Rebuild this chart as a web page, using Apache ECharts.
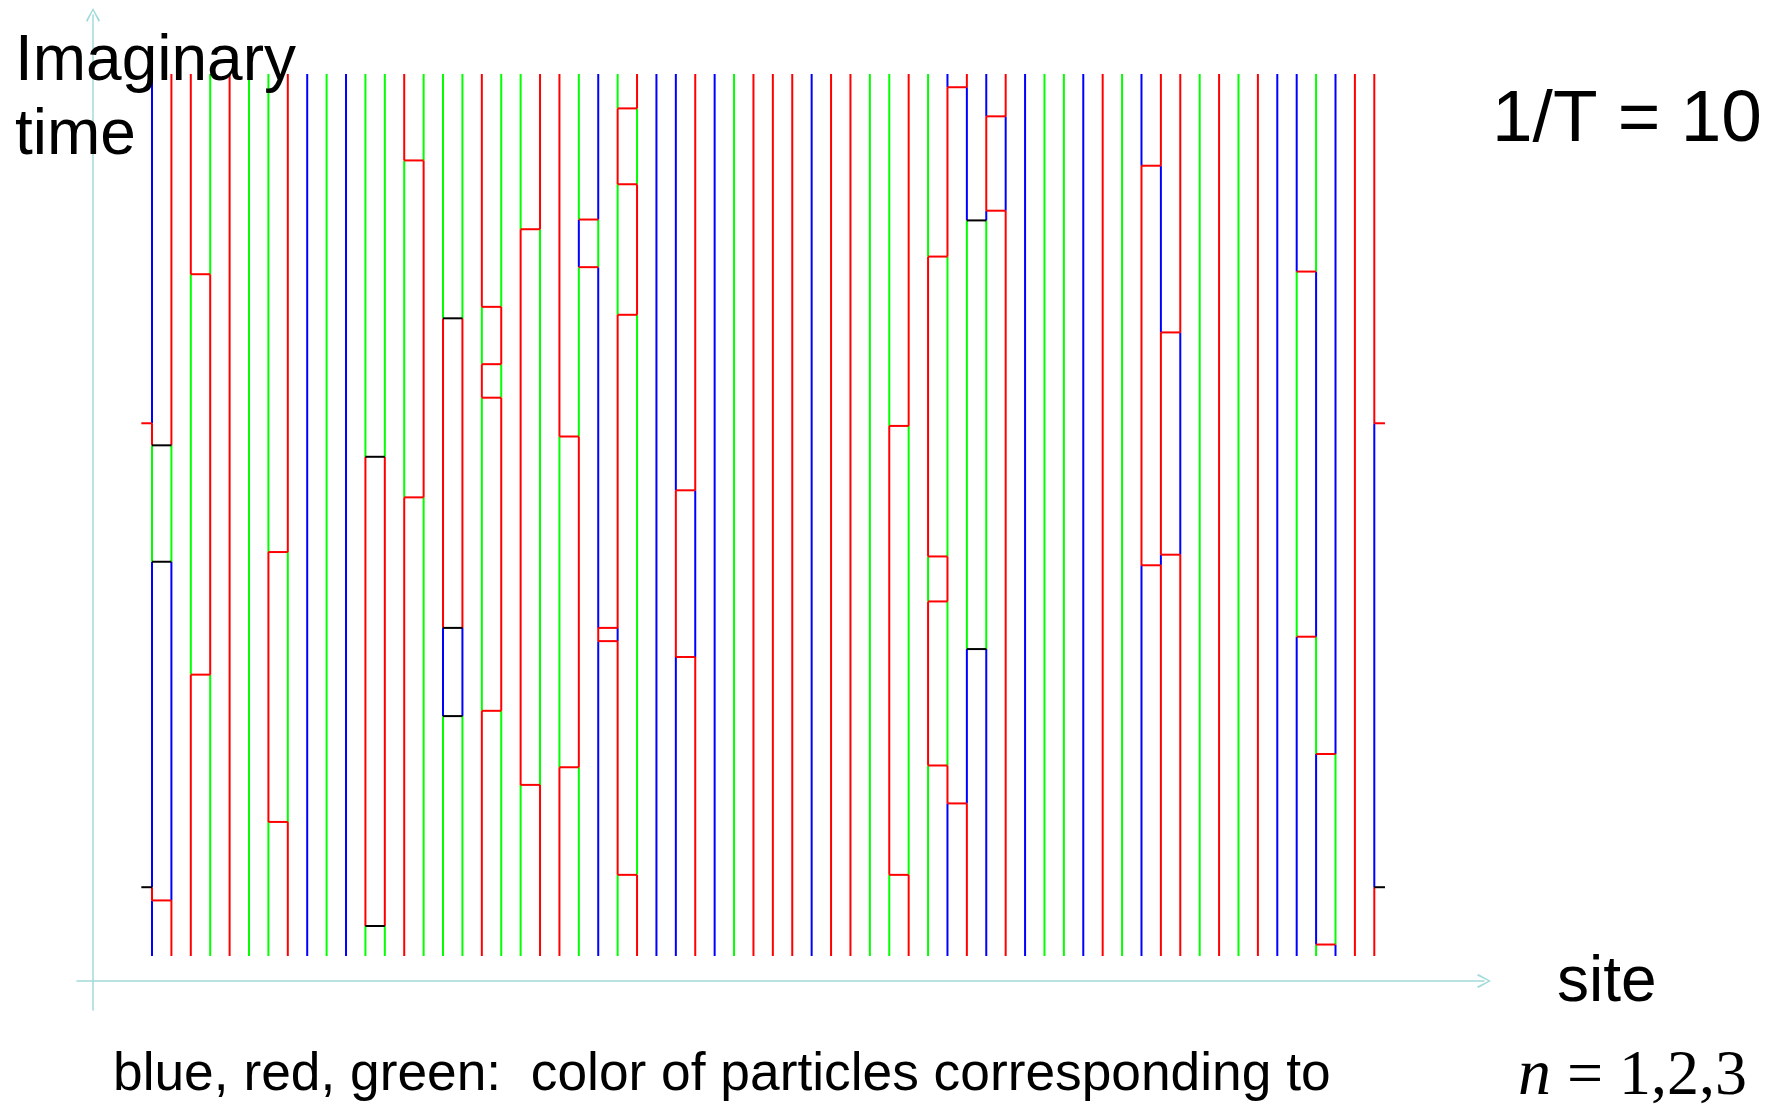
<!DOCTYPE html>
<html><head><meta charset="utf-8">
<script src="https://cdn.jsdelivr.net/npm/echarts@6/dist/echarts.min.js"></script>
<style>html,body{margin:0;padding:0;background:#fff}#c{width:1776px;height:1104px}</style>
</head><body><div id="c"></div>
<script>
// ---- data ----
const siteCount = 64;
const beta = 10; // 1/T, imaginary time runs 0..beta
// colour of each world line from tau=0 upward (B blue, R red, G green)
const siteColors = [
  'BRBGRB','RBGR','RGR','GRG','R','G','GRG','RGR','B','G',
  'B','GRG','GRG','RGR','GRG','GBRG','GBRG','RGRGR','GRGRG','GRG',
  'RGR','RGR','GRGBG','BRBGB','GRBRGRG','RGRGR','B','BRB','RBR','B',
  'G','R','R','R','B','R','R','G','GRG','RGR',
  'GRGRG','BRGRGRB','RBGBR','BGBRB','RBR','B','G','G','B','R',
  'G','BRB','RBRBR','RBR','G','R','G','R','B','BGB',
  'GBGBG','BGB','R','RBR'
];
// imaginary times at which each world line changes colour
const siteSwitches = [
  [0.63,0.78,4.47,5.79,6.04],[0.63,4.47,5.79],[3.19,7.73],[3.19,7.73],[],[],[1.52,4.58],[1.52,4.58],[],[],
  [],[0.34,5.66],[0.34,5.66],[5.20,9.02],[5.20,9.02],[2.72,3.72,7.23],[2.72,3.72,7.23],[2.78,6.33,6.71,7.36],[2.78,6.33,6.71,7.36],[1.94,8.24],
  [1.94,8.24],[2.14,5.89],[2.14,5.89,7.81,8.35],[3.57,3.72,7.81,8.35],[0.92,3.57,3.72,7.27,8.75,9.61],[0.92,7.27,8.75,9.61],[],[3.39,5.28],[3.39,5.28],[],
  [],[],[],[],[],[],[],[],[0.92,6.01],[0.92,6.01],
  [2.16,4.02,4.53,7.93],[1.73,2.16,4.02,4.53,7.93,9.85],[1.73,3.48,8.34,9.85],[3.48,8.34,8.45,9.52],[8.45,9.52],[],[],[],[],[],
  [],[4.43,8.96],[4.43,4.55,7.07,8.96],[4.55,7.07],[],[],[],[],[],[3.62,7.76],
  [0.13,2.29,3.62,7.76],[0.13,2.29],[],[0.78,6.04]
];
// exchange links: [left site, tau, colour]; site 63 links to site 0 (periodic)
const linkSites = [63,63, 0,0,0, 2,2, 6,6, 11,11, 13,13, 15,15,15, 17,17,17,17, 19,19, 21,21, 22,22, 23,23, 24,24,24,24, 27,27, 38,38, 40,40,40,40, 41,41, 42,42, 43,43, 51,51, 52,52, 59,59, 60,60];
const linkTimes = [6.04,0.78, 5.79,4.47,0.63, 7.73,3.19, 4.58,1.52, 5.66,0.34, 9.02,5.20, 7.23,3.72,2.72, 7.36,6.71,6.33,2.78, 8.24,1.94, 5.89,2.14, 8.35,7.81, 3.72,3.57, 9.61,8.75,7.27,0.92, 5.28,3.39, 6.01,0.92, 7.93,4.53,4.02,2.16, 9.85,1.73, 8.34,3.48, 9.52,8.45, 8.96,4.43, 7.07,4.55, 7.76,3.62, 2.29,0.13];
const linkColors = 'RK'+'KKR'+'RR'+'RR'+'KK'+'RR'+'KKK'+'RRRR'+'RR'+'RR'+'RR'+'RR'+'RRRR'+'RR'+'RR'+'RRRR'+'RR'+'KK'+'RR'+'RR'+'RR'+'RR'+'RR';

const colorCodes = 'BRGK';
const colorValues = ['#0000ff','#ff0000','#00ff00','#000000'];

// ---- build segments ----
const lineSegs = [];
siteColors.forEach((cs, i) => {
  const b = [0, ...siteSwitches[i], beta];
  for (let k = 0; k < cs.length; k++) lineSegs.push([i, b[k], i, b[k+1], colorCodes.indexOf(cs[k])]);
});
const linkSegs = [];
linkSites.forEach((s, j) => {
  const c = colorCodes.indexOf(linkColors[j]);
  const t = linkTimes[j];
  if (s === siteCount - 1) {
    linkSegs.push([s, t, s + 0.55, t, c]);
    linkSegs.push([-0.55, t, 0, t, c]);
  } else linkSegs.push([s, t, s + 1, t, c]);
});

function renderSeg(params, api) {
  const p1 = api.coord([api.value(0), api.value(1)]);
  const p2 = api.coord([api.value(2), api.value(3)]);
  return {type:'line', shape:{x1:p1[0], y1:p1[1], x2:p2[0], y2:p2[1]},
    style:{stroke: colorValues[api.value(4)], lineWidth:2}};
}

const axisCol = '#a3dada';
const chevronUp = 'path://M5,0 L10,9 L9,10 L5,2 L1,10 L0,9 Z';

const chart = echarts.init(document.getElementById('c'), null, {renderer:'canvas'});
chart.setOption({
  backgroundColor:'#ffffff',
  animation:false,
  title:[
    {text:'Imaginary\ntime', left:10, top:20, textStyle:{fontFamily:'Liberation Sans', fontSize:64, fontWeight:'normal', color:'#000', lineHeight:74}},
    {text:'1/T = 10', left:1487, top:79, textStyle:{fontFamily:'Liberation Sans', fontSize:73, fontWeight:'normal', color:'#000'}},
    {text:'site', left:1552, top:946, textStyle:{fontFamily:'Liberation Sans', fontSize:64, fontWeight:'normal', color:'#000'}},
    {text:'blue, red, green:  color of particles corresponding to', left:108, top:1044, textStyle:{fontFamily:'Liberation Sans', fontSize:53.3, fontWeight:'normal', color:'#000'}},
    {text:'{n|n} = 1,2,3', left:1513, top:1039, textStyle:{fontFamily:'Liberation Serif', fontSize:64, fontWeight:'normal', color:'#000',
      rich:{n:{fontFamily:'Liberation Serif', fontStyle:'italic', fontSize:66, color:'#000'}}}}
  ],
  grid:[
    {left:152, top:74, width:1222.3, height:882},
    {left:77, top:15, width:1407, height:995}
  ],
  xAxis:[
    {gridIndex:0, type:'value', min:0, max:siteCount-1, show:false},
    {gridIndex:1, type:'value', min:-16, max:1391, axisLine:{show:true, onZero:true, symbol:['none', chevronUp], symbolSize:[14,18], lineStyle:{color:axisCol, width:1.5}},
      axisTick:{show:false}, axisLabel:{show:false}, splitLine:{show:false}}
  ],
  yAxis:[
    {gridIndex:1, type:'value', min:-29, max:966, axisLine:{show:true, onZero:true, symbol:['none', chevronUp], symbolSize:[14,18], lineStyle:{color:axisCol, width:1.5}},
      axisTick:{show:false}, axisLabel:{show:false}, splitLine:{show:false}},
    {gridIndex:0, type:'value', min:0, max:beta, show:false}
  ],
  series:[
    {type:'custom', xAxisIndex:0, yAxisIndex:1, renderItem:renderSeg, data:lineSegs, encode:{x:[0,2], y:[1,3]}, silent:true},
    {type:'custom', xAxisIndex:0, yAxisIndex:1, renderItem:renderSeg, data:linkSegs, encode:{x:[0,2], y:[1,3]}, silent:true}
  ]
});
</script></body></html>
